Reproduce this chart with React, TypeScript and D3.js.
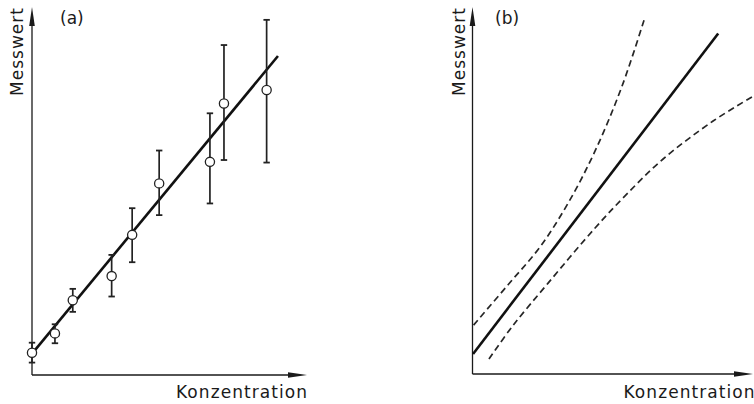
import React from "react";
import * as d3 from "d3";

// Panel (a): measured points with error bars (arbitrary units)
const concA = [0.0, 0.85, 1.51, 2.95, 3.71, 4.71, 6.59, 7.11, 8.69];
const meanA = [0.61, 1.14, 2.05, 2.71, 3.84, 5.25, 5.84, 7.44, 7.81];
const lowA = [0.34, 0.87, 1.73, 2.15, 3.09, 4.38, 4.7, 5.89, 5.82];
const highA = [0.885, 1.39, 2.36, 3.29, 4.57, 6.15, 7.17, 9.04, 9.73];
const fitX = [0.11, 9.11];
const fitY = [0.68, 8.74];

// Panel (b): regression line and confidence bands
const lineBX = [0.02, 9.1];
const lineBY = [0.55, 9.33];
const upperX = [0.04, 1.31, 2.5, 3.54, 4.54, 5.54, 6.39];
const upperY = [1.34, 2.44, 3.48, 4.68, 6.11, 7.89, 9.78];
const lowerX = [0.61, 1.46, 2.8, 4.54, 5.65, 7.06, 8.91, 10.35];
const lowerY = [0.41, 1.29, 2.49, 4.0, 4.88, 5.89, 6.93, 7.59];

const yLabel = "Messwert";
const xLabel = "Konzentration";
const panelLabels = ["(a)", "(b)"];

const FONT = "'DejaVu Sans', sans-serif";
const INK = "#1a1a1a";

function Axes({ x0, y0, xEnd, yTop, ylx, label, labelX, xLabelX }: any) {
  return (
    <g>
      <line x1={x0} y1={y0} x2={x0} y2={yTop + 12} stroke={INK} strokeWidth={1.3} />
      <line x1={x0} y1={y0} x2={xEnd - 12} y2={y0} stroke={INK} strokeWidth={1.3} />
      <path d={`M${x0},${yTop} L${x0 - 2.8},${yTop + 19} L${x0 + 2.8},${yTop + 19} Z`} fill={INK} />
      <path d={`M${xEnd},${y0} L${xEnd - 19},${y0 - 2.8} L${xEnd - 19},${y0 + 2.8} Z`} fill={INK} />
      <text
        transform={`translate(${ylx},96) rotate(-90)`}
        fontFamily={FONT}
        fontSize={17}
        fill={INK}
        textLength={88}
        lengthAdjust="spacing"
      >
        {yLabel}
      </text>
      <text x={labelX} y={24} fontFamily={FONT} fontSize={17} fill={INK}>
        {label}
      </text>
      <text
        x={xLabelX}
        y={398}
        fontFamily={FONT}
        fontSize={17}
        fill={INK}
        textLength={131}
        lengthAdjust="spacing"
      >
        {xLabel}
      </text>
    </g>
  );
}

export default function App() {
  const xa = d3.scaleLinear().domain([0, 10]).range([32, 302]);
  const ya = d3.scaleLinear().domain([0, 10]).range([375, 10]);
  const xb = d3.scaleLinear().domain([0, 10]).range([472.5, 742.5]);
  const yb = d3.scaleLinear().domain([0, 10]).range([374, 9]);

  const lineA = d3
    .line<number>()
    .x((_, i) => xa(fitX[i]))
    .y((d) => ya(d));
  const lineB = d3
    .line<number>()
    .x((_, i) => xb(lineBX[i]))
    .y((d) => yb(d));
  const upper = d3
    .line<number>()
    .x((_, i) => xb(upperX[i]))
    .y((d) => yb(d))
    .curve(d3.curveCatmullRom);
  const lower = d3
    .line<number>()
    .x((_, i) => xb(lowerX[i]))
    .y((d) => yb(d))
    .curve(d3.curveCatmullRom);

  return (
    <svg
      width={754}
      height={404}
      style={{ position: "absolute", left: 0, top: 0, background: "#fff" }}
    >
      <rect width={754} height={404} fill="#fff" />
      <Axes x0={32} y0={375} xEnd={307} yTop={7} ylx={23} label={panelLabels[0]} labelX={60} xLabelX={176} />
      <Axes x0={472.5} y0={374} xEnd={753} yTop={7} ylx={465} label={panelLabels[1]} labelX={495} xLabelX={623.5} />

      {/* Panel (a) */}
      <path d={lineA(fitY) || ""} stroke="#111" strokeWidth={2.6} fill="none" />
      {concA.map((c, i) => (
        <g key={i}>
          <line x1={xa(c)} x2={xa(c)} y1={ya(lowA[i])} y2={ya(highA[i])} stroke="#222" strokeWidth={1.7} />
          <line x1={xa(c) - 3.2} x2={xa(c) + 3.2} y1={ya(lowA[i])} y2={ya(lowA[i])} stroke="#222" strokeWidth={1.8} />
          <line x1={xa(c) - 3.2} x2={xa(c) + 3.2} y1={ya(highA[i])} y2={ya(highA[i])} stroke="#222" strokeWidth={1.8} />
          <circle cx={xa(c)} cy={ya(meanA[i])} r={4.6} fill="#fff" stroke="#222" strokeWidth={1.3} />
        </g>
      ))}

      {/* Panel (b) */}
      <path d={lineB(lineBY) || ""} stroke="#111" strokeWidth={2.6} fill="none" />
      <path d={upper(upperY) || ""} stroke="#262626" strokeWidth={1.7} fill="none" strokeDasharray="6.5,4" />
      <path d={lower(lowerY) || ""} stroke="#262626" strokeWidth={1.7} fill="none" strokeDasharray="6.5,4" />
    </svg>
  );
}
